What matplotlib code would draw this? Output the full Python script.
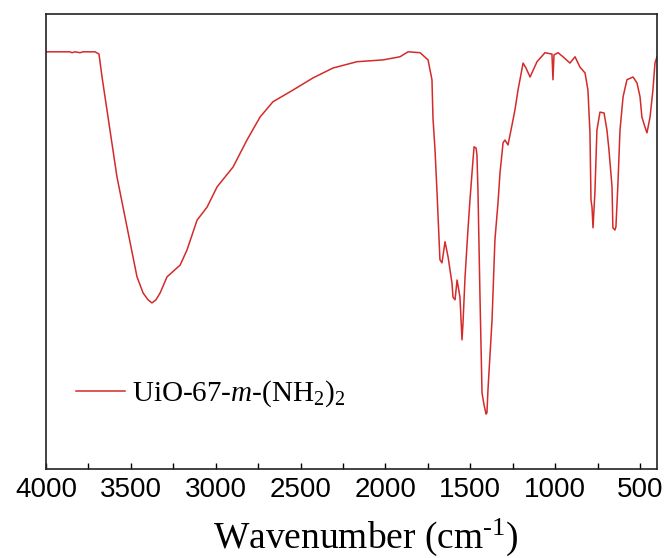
import matplotlib
matplotlib.use("Agg")
import matplotlib.pyplot as plt

# FTIR spectrum of UiO-67-m-(NH2)2 (transmittance, arbitrary units)
wavenumber = [
    4000, 3918, 3859, 3847, 3829, 3800, 3782, 3711, 3688, 3670, 3641, 3582,
    3523, 3464, 3428, 3399, 3376, 3352, 3328, 3287, 3210, 3169, 3110, 3051,
    2992, 2898, 2816, 2739, 2663, 2545, 2427, 2309, 2168, 2014, 1914, 1867,
    1796, 1749, 1726, 1720, 1708, 1696, 1679, 1667, 1649, 1631, 1608, 1602,
    1590, 1578, 1561, 1549, 1543, 1531, 1514, 1502, 1490, 1478, 1466, 1461,
    1455, 1443, 1431, 1419, 1407, 1402, 1396, 1372, 1355, 1337, 1325, 1307,
    1296, 1278, 1254, 1237, 1219, 1189, 1172, 1148, 1107, 1060, 1019, 1013,
    1007, 983, 954, 913, 883, 854, 824, 807, 795, 789, 783, 777, 766, 754,
    736, 712, 695, 683, 665, 660, 648, 642, 630, 618, 600, 577, 541, 518,
    500, 489, 471, 459, 441, 424, 412, 400,
]
transmittance = [
    91.8, 91.8, 91.8, 91.6, 91.8, 91.6, 91.8, 91.8, 91.3, 86.2, 78.9, 64.0,
    52.9, 41.8, 38.2, 36.7, 36.0, 36.7, 38.2, 41.8, 44.4, 47.8, 54.4, 57.3,
    61.8, 66.2, 72.2, 77.3, 80.7, 83.3, 86.0, 88.2, 89.6, 90.0, 90.7, 91.8,
    91.6, 90.0, 85.6, 77.1, 70.0, 60.4, 45.6, 44.9, 49.6, 46.2, 40.4, 37.3,
    36.7, 41.1, 37.3, 27.8, 31.6, 41.8, 52.2, 58.9, 64.9, 70.7, 70.4, 68.9,
    61.1, 37.3, 16.0, 13.3, 11.3, 11.6, 16.7, 32.2, 50.0, 58.2, 64.9, 71.6,
    72.2, 71.1, 75.6, 78.9, 83.3, 89.3, 88.2, 86.2, 89.6, 91.6, 91.3, 85.6,
    91.1, 91.6, 90.7, 89.3, 90.7, 88.4, 87.1, 83.3, 73.8, 58.9, 57.3, 52.7,
    60.4, 74.4, 78.4, 78.2, 74.4, 70.0, 61.8, 52.7, 52.2, 52.9, 62.7, 74.4,
    81.8, 85.6, 86.2, 84.9, 81.8, 77.3, 75.1, 73.8, 77.3, 83.3, 89.3, 90.7,
]
series_label = "UiO-67-$m$-(NH$_2$)$_2$"
x_ticks = [4000, 3500, 3000, 2500, 2000, 1500, 1000, 500]
x_minor = [3750, 3250, 2750, 2250, 1750, 1250, 750]

plt.rcParams["mathtext.fontset"] = "custom"
plt.rcParams["mathtext.rm"] = "Liberation Serif"
plt.rcParams["mathtext.it"] = "Liberation Serif:italic"

fig = plt.figure(figsize=(6.70, 5.58), dpi=100)
ax = fig.add_axes([0.0687, 0.1595, 0.9806 - 0.0687, 0.9749 - 0.1595])

ax.plot(wavenumber, transmittance, color="#d42a2a", lw=1.1, label=series_label)

ax.set_xlim(4000, 400)
ax.set_ylim(-0.9, 100.2)
ax.set_yticks([])
ax.set_xticks(x_ticks)
ax.set_xticks(x_minor, minor=True)
ax.tick_params(axis="x", which="both", direction="in", length=4, width=1.0,
               pad=6, labelsize=20)
for lab in ax.get_xticklabels():
    lab.set_fontfamily("Liberation Sans")
for sp in ax.spines.values():
    sp.set_linewidth(1.2)
    sp.set_color("#222222")

ax.set_xlabel("Wavenumber (cm$^{\\text{-}1}$)", fontfamily="Liberation Serif",
              fontsize=27)
ax.xaxis.set_label_coords(0.524, -0.105)

leg = ax.legend(loc="center left", bbox_to_anchor=(0.049, 0.165), frameon=False,
                prop={"family": "Liberation Serif", "size": 21},
                borderpad=0, borderaxespad=0,
                handlelength=1.68, handletextpad=0.25)

fig.savefig("out.png", dpi=100)
